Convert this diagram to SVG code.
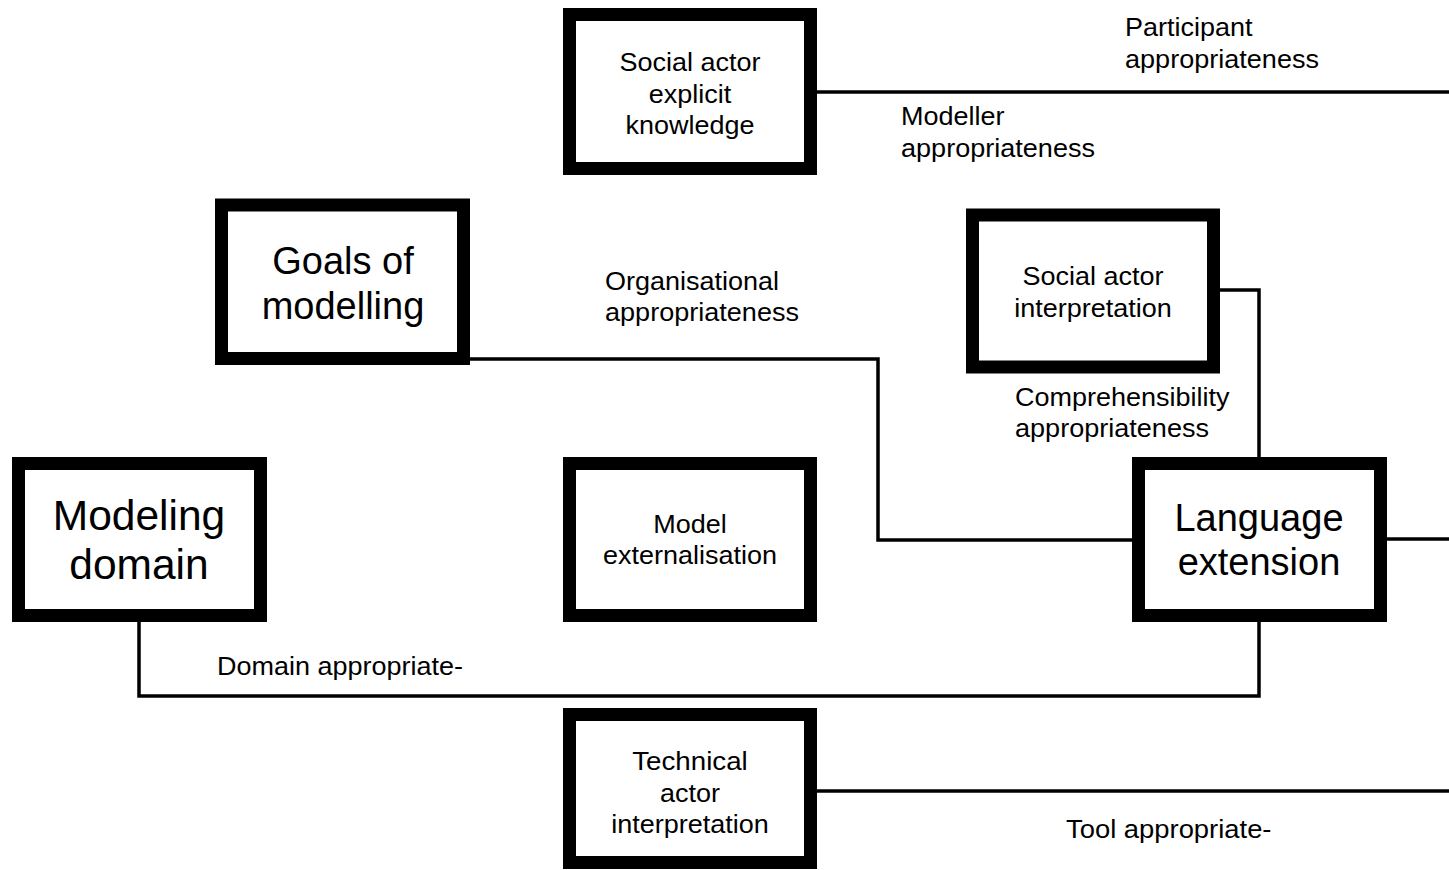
<svg xmlns="http://www.w3.org/2000/svg" width="1449" height="870" viewBox="0 0 1449 870">
  <style>
    .box { fill: #ffffff; stroke: #000000; stroke-width: 13; }
    .wire { fill: none; stroke: #000000; stroke-width: 3.5; }
    text { font-family: "Liberation Sans", Arial, sans-serif; fill: #000000; }
    .n24 { font-size: 25.5px; text-anchor: middle; }
    .lbl { font-size: 25.5px; }
    .big38 { font-size: 38px; text-anchor: middle; }
    .big42 { font-size: 42.5px; text-anchor: middle; }
  </style>
  <rect width="1449" height="870" fill="#ffffff"/>

  <g id="connectors">
    <path class="wire" d="M817,92 H1449"/>
    <path class="wire" d="M470,359 H878 V540 H1132"/>
    <path class="wire" d="M1220,290 H1259 V457"/>
    <path class="wire" d="M1387,539 H1449"/>
    <path class="wire" d="M139,622 V696 H1259 V622"/>
    <path class="wire" d="M817,791 H1449"/>
  </g>

  <g id="labels">
    <text class="lbl" x="1125" y="36" textLength="127.5" lengthAdjust="spacingAndGlyphs">Participant</text>
    <text class="lbl" x="1125" y="68" textLength="194" lengthAdjust="spacingAndGlyphs">appropriateness</text>
    <text class="lbl" x="901" y="125" textLength="103.5" lengthAdjust="spacingAndGlyphs">Modeller</text>
    <text class="lbl" x="901" y="157" textLength="194" lengthAdjust="spacingAndGlyphs">appropriateness</text>
    <text class="lbl" x="605" y="290" textLength="174" lengthAdjust="spacingAndGlyphs">Organisational</text>
    <text class="lbl" x="605" y="321" textLength="194" lengthAdjust="spacingAndGlyphs">appropriateness</text>
    <text class="lbl" x="1015" y="406" textLength="214.5" lengthAdjust="spacingAndGlyphs">Comprehensibility</text>
    <text class="lbl" x="1015" y="437" textLength="194" lengthAdjust="spacingAndGlyphs">appropriateness</text>
    <text class="lbl" x="217" y="675" textLength="246" lengthAdjust="spacingAndGlyphs">Domain appropriate-</text>
    <text class="lbl" x="1066" y="838" textLength="205.5" lengthAdjust="spacingAndGlyphs">Tool appropriate-</text>
  </g>

  <g id="node-explicit-knowledge">
    <rect class="box" x="569.5" y="14.5" width="241" height="154"/>
    <text class="n24" x="690" y="71" textLength="141" lengthAdjust="spacingAndGlyphs">Social actor</text>
    <text class="n24" x="690" y="103" textLength="82.5" lengthAdjust="spacingAndGlyphs">explicit</text>
    <text class="n24" x="690" y="134" textLength="129" lengthAdjust="spacingAndGlyphs">knowledge</text>
  </g>

  <g id="node-goals">
    <rect class="box" x="221.5" y="205" width="242" height="153.5"/>
    <text class="big38" x="343" y="274">Goals of</text>
    <text class="big38" x="343" y="319">modelling</text>
  </g>

  <g id="node-social-interpretation">
    <rect class="box" x="972.5" y="215" width="241" height="152"/>
    <text class="n24" x="1093" y="285" textLength="141" lengthAdjust="spacingAndGlyphs">Social actor</text>
    <text class="n24" x="1093" y="317" textLength="157.5" lengthAdjust="spacingAndGlyphs">interpretation</text>
  </g>

  <g id="node-modeling-domain">
    <rect class="box" x="18.5" y="463.5" width="242" height="152"/>
    <text class="big42" x="139" y="530">Modeling</text>
    <text class="big42" x="139" y="579">domain</text>
  </g>

  <g id="node-model-externalisation">
    <rect class="box" x="569.5" y="463.5" width="241" height="152"/>
    <text class="n24" x="690" y="533" textLength="73.5" lengthAdjust="spacingAndGlyphs">Model</text>
    <text class="n24" x="690" y="564" textLength="174" lengthAdjust="spacingAndGlyphs">externalisation</text>
  </g>

  <g id="node-language-extension">
    <rect class="box" x="1138.5" y="463.5" width="242" height="152"/>
    <text class="big38" x="1259" y="531">Language</text>
    <text class="big38" x="1259" y="575">extension</text>
  </g>

  <g id="node-technical-interpretation">
    <rect class="box" x="569.5" y="714.5" width="241" height="148"/>
    <text class="n24" x="690" y="770" textLength="115.5" lengthAdjust="spacingAndGlyphs">Technical</text>
    <text class="n24" x="690" y="802" textLength="60" lengthAdjust="spacingAndGlyphs">actor</text>
    <text class="n24" x="690" y="833" textLength="157.5" lengthAdjust="spacingAndGlyphs">interpretation</text>
  </g>
</svg>
